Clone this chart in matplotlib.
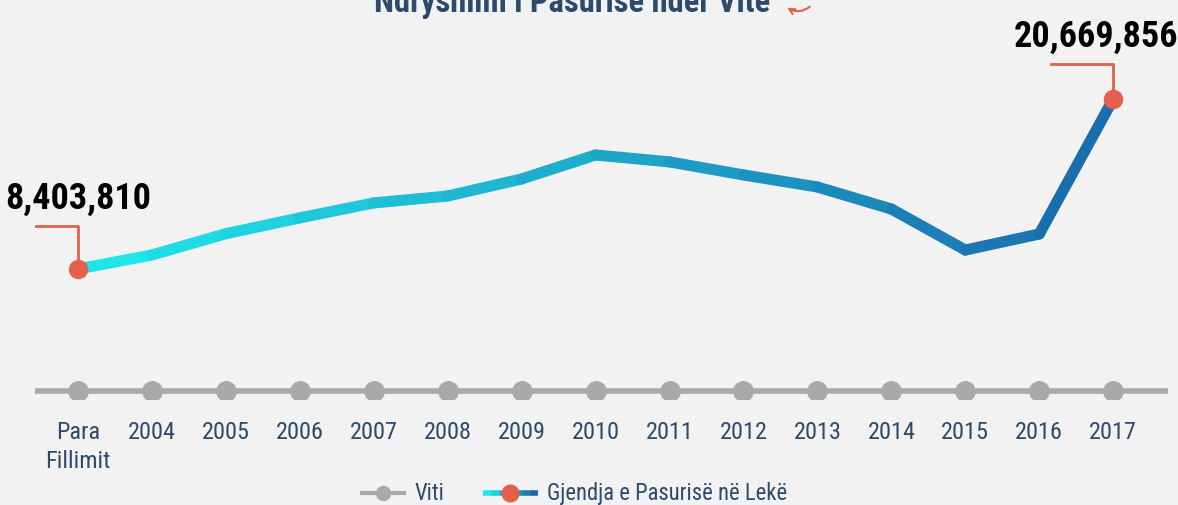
import numpy as np
import matplotlib
matplotlib.use("Agg")
import matplotlib.pyplot as plt
from matplotlib.collections import LineCollection
from matplotlib.colors import LinearSegmentedColormap
from matplotlib.lines import Line2D

# data
categories = ["Para\nFillimit", "2004", "2005", "2006", "2007", "2008", "2009", "2010",
              "2011", "2012", "2013", "2014", "2015", "2016", "2017"]
wealth = [8403810, 9414000, 10950000, 12090000, 13170000, 13670000, 14900000, 16630000,
          16130000, 15190000, 14320000, 12730000, 9770000, 10930000, 20669856]
viti = [0] * len(categories)

FONT = ["Roboto Condensed", "Roboto", "DejaVu Sans"]
NAVY = "#2d4a6b"
RED = "#e5604a"
GRAY = "#a9a9a9"
BG = "#f2f2f2"

plt.rcParams["font.family"] = FONT

fig = plt.figure(figsize=(11.78, 5.06), dpi=100, facecolor=BG)
ax = fig.add_axes([0.0297, 0.2095, 0.9618, 0.7115])
ax.set_facecolor("none")
ax.set_xlim(-0.58, 14.74)
ax.set_ylim(-976000, 25000000)
ax.axis("off")

# "Viti" series on its own axis along the bottom
ax2 = fig.add_axes([0.0297, 0.2095, 0.9618, 0.7115], zorder=0)
ax2.set_facecolor(BG)
ax2.set_xlim(-0.58, 14.74)
ax2.set_ylim(-1, 44)
ax2.axis("off")
ax.set_zorder(1)
x = np.arange(len(categories))
ax2.axhline(0, color=GRAY, lw=4, zorder=1)
ax2.plot(x, viti, "o", color=GRAY, ms=14, zorder=2)
for i, c in enumerate(categories):
    ax2.text(i, -3.6, c, ha="center", va="top", fontsize=17.5, color=NAVY,
             linespacing=1.35, multialignment="center")

# gradient wealth line
cmap = LinearSegmentedColormap.from_list("g", ["#1fe8ea", "#1b6aab"])
pts = np.column_stack([x, wealth])
segs = np.stack([pts[:-1], pts[1:]], axis=1)
cols = cmap((x[:-1] + 0.5) / (len(x) - 1))
lc = LineCollection(segs, colors=cols, linewidths=8, capstyle="round", joinstyle="round")
ax.add_collection(lc)

# highlighted first / last points
for i, dx, dy, tx in [(0, -0.89, 3.1e6, 0.0), (14, -0.84, 2.5e6, -0.23)]:
    v = wealth[i]
    ax.plot([i, i, i + dx], [v, v + dy, v + dy], color=RED, lw=2, zorder=3)
    ax.plot(i, v, "o", color=RED, ms=13, zorder=4)
    ax.text(i + tx, v + dy + 0.75e6, f"{v:,}", ha="center", va="bottom",
            fontsize=26, fontweight="bold", color="black")

# title (top clipped like the original)
fig.text(0.486, 1 - 12 / 506, "Ndryshimi i Pasurisë ndër Vite", ha="center",
         va="baseline", fontsize=23.5, fontweight="bold", color=NAVY)
ax.annotate("", xy=(785 / 1178, 1 - 7 / 506), xytext=(812 / 1178, 1 - 6 / 506),
            xycoords="figure fraction",
            arrowprops=dict(arrowstyle="->", color=RED, lw=1.5,
                            connectionstyle="arc3,rad=-0.4"))

# legend
ly = 1 - 494 / 506
fig.add_artist(Line2D([362 / 1178, 404 / 1178], [ly, ly], color=GRAY, lw=3))
fig.add_artist(Line2D([383 / 1178], [ly], marker="o", color=GRAY, ms=10))
fig.text(415 / 1178, ly, "Viti", va="center", fontsize=16.3, color=NAVY)
lx = np.linspace(483, 538, 8) / 1178
lsegs = [[(lx[k], ly), (lx[k + 1], ly)] for k in range(len(lx) - 1)]
lcol = cmap(np.linspace(0, 1, len(lsegs)))
fig.add_artist(LineCollection(lsegs, colors=lcol, linewidths=4,
                              transform=fig.transFigure))
fig.add_artist(Line2D([510 / 1178], [ly], marker="o", color=RED, ms=12))
fig.text(547 / 1178, ly, "Gjendja e Pasurisë në Lekë", va="center", fontsize=16.3, color=NAVY)

fig.savefig("out.png", dpi=100, facecolor=BG)
